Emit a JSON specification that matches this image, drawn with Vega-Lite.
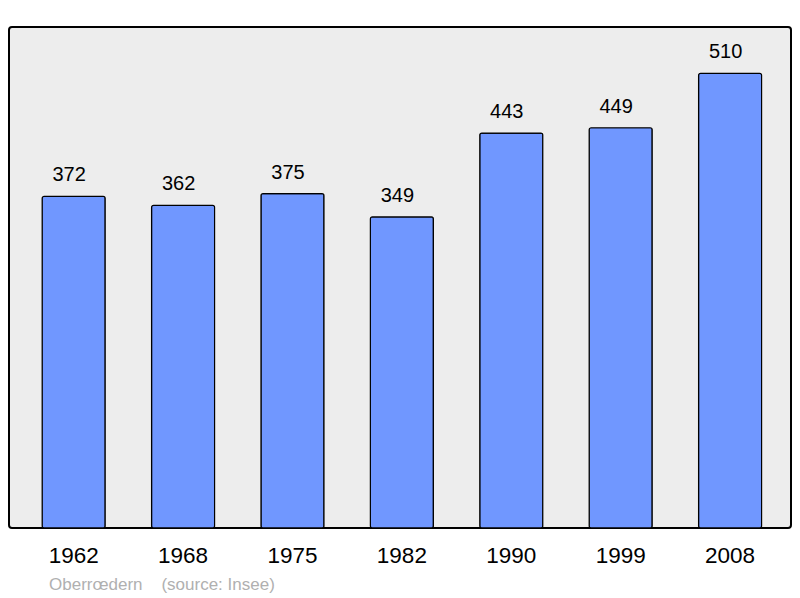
{
  "$schema": "https://vega.github.io/schema/vega-lite/v6.json",
  "autosize": "none",
  "width": 782,
  "height": 501,
  "padding": {"left": 9, "top": 27, "right": 9, "bottom": 70},
  "background": "white",
  "config": {
    "view": {"fill": "#ededed", "stroke": "black", "strokeWidth": 2, "cornerRadius": 3},
    "font": "Liberation Sans"
  },
  "title": {
    "text": "Oberrœdern\u00a0\u00a0\u00a0\u00a0(source: Insee)",
    "orient": "bottom",
    "anchor": "start",
    "dx": 40,
    "offset": 10,
    "fontSize": 17,
    "fontWeight": "normal",
    "color": "#b0b0b0",
    "font": "Liberation Sans"
  },
  "data": {
    "values": [
      {"year": "1962", "pop": 372},
      {"year": "1968", "pop": 362},
      {"year": "1975", "pop": 375},
      {"year": "1982", "pop": 349},
      {"year": "1990", "pop": 443},
      {"year": "1999", "pop": 449},
      {"year": "2008", "pop": 510}
    ]
  },
  "encoding": {
    "x": {
      "field": "year",
      "type": "ordinal",
      "scale": {"paddingInner": 0.424, "paddingOuter": 0.286, "align": 0.53},
      "axis": {
        "title": null,
        "labelAngle": 0,
        "labelFontSize": 22.5,
        "labelColor": "black",
        "labelPadding": 16,
        "ticks": false,
        "domain": false
      }
    },
    "y": {
      "field": "pop",
      "type": "quantitative",
      "scale": {"domain": [0, 562], "nice": false},
      "axis": null
    }
  },
  "layer": [
    {
      "mark": {"type": "bar", "color": "#7097ff", "stroke": "black", "strokeWidth": 1.2, "cornerRadius": 2}
    },
    {
      "mark": {"type": "text", "baseline": "alphabetic", "dy": -15, "dx": -4.5, "fontSize": 20, "color": "black"},
      "encoding": {"text": {"field": "pop", "type": "quantitative"}}
    }
  ]
}
